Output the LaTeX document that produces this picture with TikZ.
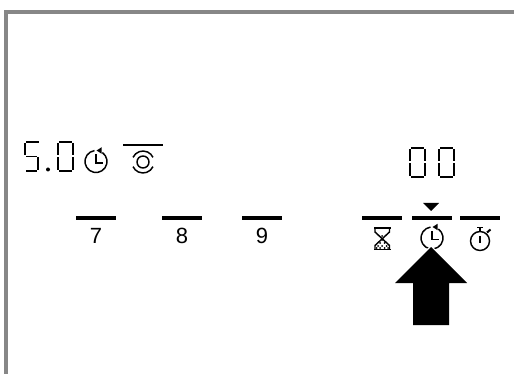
\documentclass[tikz,border=0pt]{standalone}
\usepackage{fontspec}
\setmainfont{Liberation Sans}
\tikzset{
  x=0.75pt,y=-0.75pt,
  seg/.style={line width=1.2pt,black,line cap=butt},
  bar/.style={line width=2.25pt,black},
  icon/.style={line width=1.1pt,black},
  keynum/.style={font=\fontsize{16.5}{16.5}\selectfont,inner sep=0pt,anchor=center}
}
\newcommand{\segZero}[2]{%
  \begin{scope}[shift={(#1,#2)}]
   \draw[seg] (2,0.8)--(15,0.8) (2,30.2)--(15,30.2);
   \draw[seg] (0.8,2)--(0.8,14.5) (0.8,16.5)--(0.8,29) (16.2,2)--(16.2,14.5) (16.2,16.5)--(16.2,29);
  \end{scope}}
\newcommand{\segFive}[2]{%
  \begin{scope}[shift={(#1,#2)}]
   \draw[seg] (2,0.8)--(15,0.8) (2,30.2)--(13,30.2) (2,15.5)--(13,15.5);
   \draw[seg] (0.8,2)--(0.8,14.5) (14.2,16.5)--(14.2,29);
  \end{scope}}
\newcommand{\clockicon}[3]{%
  \begin{scope}[shift={(#1,#2)}]
   \draw[icon] (-55:#3) arc[start angle=-55,end angle=262,radius=#3];
   \fill (0.05*#3,-1.0*#3)--(0.52*#3,-1.3*#3)--(0.52*#3,-0.7*#3)--cycle;
   \draw[icon] (0,-0.65*#3)--(0,0.12*#3)--(0.62*#3,0.12*#3);
  \end{scope}}
\begin{document}
\begin{tikzpicture}
\useasboundingbox (0,0) rectangle (514,374);
\fill[white] (0,0) rectangle (514,374);
% frame
\draw[line width=3pt,color=black!47] (6,374)--(6,12)--(514,12);
% left display
\segFive{24}{141}
\fill (48,169.5) circle[radius=2];
\segZero{57}{141}
\clockicon{96}{161.5}{11}
\draw[line width=1.5pt] (123,145)--(163,145);
\draw[icon] (143,162) circle[radius=6];
\draw[icon] (143,162) ++(25:11) arc[start angle=25,end angle=155,radius=11];
\draw[icon] (143,162) ++(205:11) arc[start angle=205,end angle=335,radius=11];
% keys
\draw[bar] (76,218)--(116,218);
\draw[bar] (162,218)--(202,218);
\draw[bar] (242,218)--(282,218);
\node[keynum] (k7) at (96,236) {7};
\node[keynum] (k8) at (182,236) {8};
\node[keynum] (k9) at (262,236) {9};
% right display
\segZero{409}{147}
\segZero{438}{147}
\fill (423,203)--(439,203)--(431,211)--cycle;
\draw[bar] (362,218)--(402,218);
\draw[bar] (412,218)--(452,218);
\draw[bar] (460,218)--(500,218);
% hourglass
\draw[icon] (374,228)--(390.5,228) (374,249.5)--(390.5,249.5);
\draw[icon] (375,228)--(375,232)--(389.5,245.5)--(389.5,249.5);
\draw[icon] (389.5,228)--(389.5,232)--(375,245.5)--(375,249.5);
\foreach \px/\py in {382.2/236,382.2/240,380/243,384.5/243,378/246,382.2/246,386.5/246,380/248,384.5/248,376.5/248,388/248}
  \fill (\px,\py) circle[radius=1];
\clockicon{432}{238}{11}
% stopwatch
\draw[icon] (480,241) circle[radius=9.5];
\draw[icon] (480,236)--(480,243);
\draw[icon] (480,231)--(480,228);
\draw[icon] (477,227.5)--(483,227.5);
\draw[line width=1.5pt] (487,232.5)--(490.5,229.5);
% arrow
\path[draw=white,line width=2pt] (431,247)--(467,283)--(395,283)--cycle;
\fill (431,247)--(467,283)--(449,283)--(449,325)--(413,325)--(413,283)--(395,283)--cycle;
\end{tikzpicture}
\end{document}
